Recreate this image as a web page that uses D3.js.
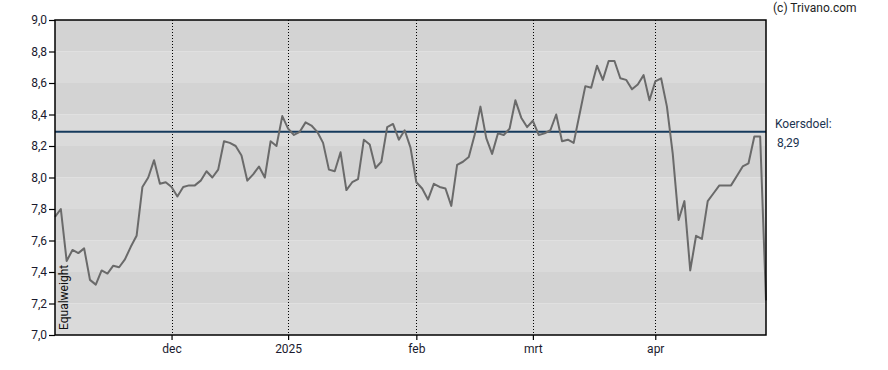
<!DOCTYPE html>
<html>
<head>
<meta charset="utf-8">
<script src="https://cdn.jsdelivr.net/npm/d3@7"></script>
<style>
  body { margin: 0; background: #fff; }
  text { font-family: Roboto, "Noto Sans", sans-serif; }
</style>
</head>
<body>
<script>
// koers per handelsdag (ongeveer nov 2024 - eind apr 2025)
const prices = [
  7.75, 7.80, 7.47, 7.54, 7.52, 7.55, 7.35, 7.32, 7.41, 7.39,
  7.44, 7.43, 7.48, 7.56, 7.63, 7.94, 8.00, 8.11, 7.96, 7.97,
  7.94, 7.88, 7.94, 7.95, 7.95, 7.98, 8.04, 8.00, 8.05, 8.23,
  8.22, 8.20, 8.14, 7.98, 8.02, 8.07, 8.00, 8.23, 8.20, 8.39,
  8.31, 8.27, 8.29, 8.35, 8.33, 8.29, 8.22, 8.05, 8.04, 8.16,
  7.92, 7.97, 7.99, 8.24, 8.21, 8.06, 8.10, 8.32, 8.34, 8.24,
  8.30, 8.19, 7.97, 7.93, 7.86, 7.96, 7.94, 7.93, 7.82, 8.08,
  8.10, 8.13, 8.27, 8.45, 8.25, 8.15, 8.28, 8.27, 8.31, 8.49,
  8.38, 8.32, 8.36, 8.27, 8.28, 8.30, 8.40, 8.23, 8.24, 8.22,
  8.40, 8.58, 8.57, 8.71, 8.62, 8.74, 8.74, 8.63, 8.62, 8.56,
  8.59, 8.65, 8.49, 8.61, 8.63, 8.45, 8.15, 7.73, 7.85, 7.41,
  7.63, 7.61, 7.85, 7.90, 7.95, 7.95, 7.95, 8.01, 8.07, 8.09,
  8.26, 8.26, 7.22
];

// maandgrenzen (index van eerste handelsdag)
const monthLabels = ["dec", "2025", "feb", "mrt", "apr"];
const monthIndex = [20, 40, 62, 82, 103];

const yTicks = [7.0, 7.2, 7.4, 7.6, 7.8, 8.0, 8.2, 8.4, 8.6, 8.8, 9.0];
const target = 8.29;
const rating = "Equalweight";

const w = 888;
const h = 370;
const margin = {left: 55, right: 122, top: 20, bottom: 35};

let svg = d3.select("body")
          .append("svg")
          .attr("width", w)
          .attr("height", h);

let xScale = d3.scaleLinear()
          .domain([0, prices.length - 1])
          .range([margin.left, w - margin.right]);
let yScale = d3.scaleLinear()
          .domain([7.0, 9.0])
          .range([h - margin.bottom, margin.top]);

const comma = function(s) { return s.replace(".", ","); };

// achtergrondbanden
let bands = d3.range(0, yTicks.length - 1);
svg.selectAll("rect.band")
   .data(bands)
   .enter()
   .append("rect")
   .attr("class", "band")
   .attr("x", margin.left)
   .attr("width", w - margin.right - margin.left)
   .attr("y", function(i) { return yScale(yTicks[i + 1]); })
   .attr("height", function(i) { return yScale(yTicks[i]) - yScale(yTicks[i + 1]); })
   .attr("fill", function(i) { return i % 2 == 1 ? "#d3d3d3" : "#dadada"; });

// verticale stippellijnen
svg.selectAll("line.month")
   .data(monthIndex)
   .enter()
   .append("line")
   .attr("class", "month")
   .attr("x1", function(d) { return Math.round(xScale(d)) + 0.5; })
   .attr("x2", function(d) { return Math.round(xScale(d)) + 0.5; })
   .attr("y1", margin.top)
   .attr("y2", h - margin.bottom)
   .attr("stroke", "#000")
   .attr("stroke-width", 1)
   .attr("stroke-dasharray", "1,2");

// koersdoel lijn
svg.append("line")
   .attr("x1", margin.left)
   .attr("x2", w - margin.right)
   .attr("y1", yScale(target))
   .attr("y2", yScale(target))
   .attr("stroke", "#163a5c")
   .attr("stroke-width", 2);

// koerslijn
let line = d3.line()
          .x(function(d, i) { return xScale(i); })
          .y(function(d) { return yScale(d); });
svg.append("path")
   .datum(prices)
   .attr("d", line)
   .attr("fill", "none")
   .attr("stroke", "#6a6a6a")
   .attr("stroke-width", 2)
   .attr("stroke-linejoin", "round");

// kader
svg.append("rect")
   .attr("x", margin.left)
   .attr("y", margin.top)
   .attr("width", w - margin.right - margin.left)
   .attr("height", h - margin.bottom - margin.top)
   .attr("fill", "none")
   .attr("stroke", "#000")
   .attr("stroke-width", 1.5);

// assen
let yAxis = d3.axisLeft(yScale)
          .tickValues(yTicks)
          .tickSize(6)
          .tickFormat(function(d) { return comma(d3.format(".1f")(d)); });
let xAxis = d3.axisBottom(xScale)
          .tickValues(monthIndex)
          .tickSize(5)
          .tickFormat(function(d, i) { return monthLabels[i]; });

let gy = svg.append("g")
   .attr("transform", "translate(" + margin.left + ",0)")
   .call(yAxis);
let gx = svg.append("g")
   .attr("transform", "translate(0," + (h - margin.bottom) + ")")
   .call(xAxis);
[gy, gx].forEach(function(g) {
  g.select(".domain").remove();
  g.selectAll("line").attr("stroke", "#000").attr("stroke-width", 1.2);
  g.selectAll("text")
   .attr("fill", "#1a1a2e")
   .style("font-size", "12px")
   .style("font-family", "Roboto, sans-serif");
});
gy.selectAll("text").attr("x", -8);
gx.selectAll("text").attr("y", 9);

// teksten
svg.append("text")
   .attr("x", 773)
   .attr("y", 12)
   .attr("fill", "#222")
   .style("font-size", "12px")
   .text("(c) Trivano.com");
svg.append("text")
   .attr("x", 775)
   .attr("y", 128)
   .attr("fill", "#1b3350")
   .style("font-size", "12px")
   .text("Koersdoel:");
svg.append("text")
   .attr("x", 777)
   .attr("y", 147)
   .attr("fill", "#1b3350")
   .style("font-size", "12px")
   .text(comma(d3.format(".2f")(target)));
svg.append("text")
   .attr("transform", "translate(68," + (h - margin.bottom - 5) + ") rotate(-90)")
   .attr("fill", "#111")
   .style("font-size", "12px")
   .text(rating);
</script>
</body>
</html>
